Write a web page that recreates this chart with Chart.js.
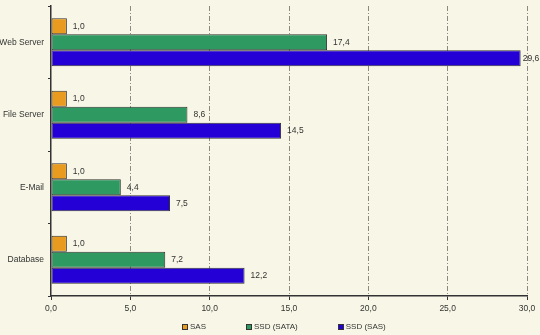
<!DOCTYPE html>
<html>
<head>
<meta charset="utf-8">
<script src="https://cdn.jsdelivr.net/npm/chart.js@4"></script>
<style>
  html, body { margin: 0; padding: 0; background: #f8f6e6; }
  #wrap { position: relative; width: 540px; height: 335px; }
  #legend {
    position: absolute; left: 182px; top: 322px;
    display: flex; gap: 40px;
    font: 8px "Liberation Sans", Arial, sans-serif; color: #333;
  }
  #legend span.item { display: flex; align-items: center; }
  #legend span.box { width: 4px; height: 4px; border: 1px solid #333; margin-right: 2px; }
</style>
</head>
<body>
<div id="wrap">
  <canvas id="chart" width="540" height="335"></canvas>
  <div id="legend"></div>
</div>
<script>
// categories, top to bottom
const categories = ["Web Server", "File Server", "E-Mail", "Database"];

// series values
const sasValues = [1.0, 1.0, 1.0, 1.0];
const ssdSataValues = [17.4, 8.6, 4.4, 7.2];
const ssdSasValues = [29.6, 14.5, 7.5, 12.2];

const seriesNames = ["SAS", "SSD (SATA)", "SSD (SAS)"];
const seriesColors = ["#e89b1f", "#2e9a62", "#2400d6"];

// x axis ticks
const xMax = 30;
const xStep = 5;

const FONT = "Liberation Sans";

function fmt(v) {
  return v.toFixed(1).replace(".", ",");
}

// value labels to the right of each bar
const valueLabels = {
  id: "valueLabels",
  afterDatasetsDraw(chart) {
    const ctx = chart.ctx;
    ctx.save();
    ctx.font = '8.5px "Liberation Sans", Arial, sans-serif';
    ctx.fillStyle = "#333";
    ctx.textAlign = "left";
    ctx.textBaseline = "middle";
    chart.data.datasets.forEach((ds, i) => {
      const meta = chart.getDatasetMeta(i);
      meta.data.forEach((bar, j) => {
        const txt = fmt(ds.data[j]);
        let x = bar.x + 6;
        // keep text inside the canvas
        if (x + ctx.measureText(txt).width > chart.width - 1) x = bar.x + 2;
        ctx.fillText(txt, x, bar.y);
      });
    });
    ctx.restore();
  }
};

const seriesData = [sasValues, ssdSataValues, ssdSasValues];

const ctx = document.getElementById("chart").getContext("2d");
const chart = new Chart(ctx, {
  type: "bar",
  data: {
    labels: categories,
    datasets: seriesNames.map((name, i) => ({
      label: name,
      data: seriesData[i],
      backgroundColor: seriesColors[i],
      borderColor: "#333",
      borderWidth: 1,
      borderSkipped: false,
      categoryPercentage: 0.66,
      barPercentage: 1.0
    }))
  },
  options: {
    indexAxis: "y",
    responsive: false,
    animation: false,
    layout: { padding: { top: 6, right: 13, left: 0, bottom: 0 } },
    plugins: {
      legend: { display: false },
      tooltip: { enabled: false }
    },
    scales: {
      x: {
        min: 0,
        max: xMax,
        ticks: {
          stepSize: xStep,
          callback: v => fmt(v),
          font: { family: FONT, size: 8.5 },
          color: "#333",
          padding: 4
        },
        grid: {
          color: c => (c.tick && c.tick.value === 0 ? "rgba(0,0,0,0)" : "#8a8a80"),
          tickColor: "#333",
          tickLength: 4,
          lineWidth: 1
        },
        border: { display: true, color: "#333", width: 1.5, dash: [5, 2, 1, 2] },
        afterFit: s => { s.height = 39; }
      },
      y: {
        ticks: {
          font: { family: FONT, size: 8.5 },
          color: "#333",
          padding: 4
        },
        grid: {
          offset: true,
          drawOnChartArea: false,
          tickLength: 3,
          tickColor: "#333"
        },
        border: { display: true, color: "#333", width: 1.5 },
        afterFit: s => {
          s.width = 51;
          s.paddingTop = 0;
          s.paddingBottom = 0;
        }
      }
    }
  },
  plugins: [valueLabels]
});

// legend
const legend = document.getElementById("legend");
seriesNames.forEach((name, i) => {
  const item = document.createElement("span");
  item.className = "item";
  const box = document.createElement("span");
  box.className = "box";
  box.style.background = seriesColors[i];
  item.appendChild(box);
  item.appendChild(document.createTextNode(name));
  legend.appendChild(item);
});
</script>
</body>
</html>
